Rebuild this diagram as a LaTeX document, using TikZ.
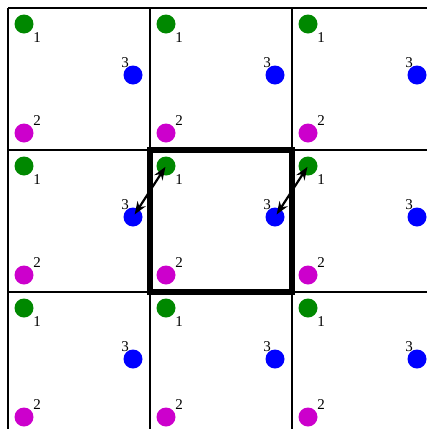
\documentclass[tikz,border=0pt]{standalone}
\usepackage{fontspec}
\setmainfont{Liberation Serif}
\usetikzlibrary{arrows.meta}
\definecolor{cgreen}{HTML}{008800}
\definecolor{cblue}{HTML}{0000FF}
\definecolor{cmag}{HTML}{CC00CC}
\tikzset{
  every picture/.style={x=1pt, y=-1pt},
  dot/.style={circle, fill=#1, minimum size=19pt, inner sep=0pt},
  num/.style={font=\fontsize{15}{15}\selectfont, inner sep=0pt},
  gridline/.style={line width=1.5pt},
  cellframe/.style={line width=6pt},
  bond/.style={Stealth-Stealth, line width=2.2pt, shorten <=1pt, shorten >=3pt},
}
\begin{document}
\begin{tikzpicture}
  \useasboundingbox (0,0) rectangle (427,429);
  \clip (0,0) rectangle (427,429);
  % grid of periodic cells
  \foreach \k in {0,1,2} {
    \draw[gridline] ({8+142*\k},8) -- ({8+142*\k},440);
    \draw[gridline] (8,{8+142*\k}) -- (440,{8+142*\k});
  }
  % atoms in each cell
  \foreach \i in {0,1,2} \foreach \j in {0,1,2} {
    \node[dot=cgreen] (g\i\j) at ({24+142*\j},{24+142*\i}) {};
    \node[dot=cblue] (b\i\j) at ({133+142*\j},{75+142*\i}) {};
    \node[dot=cmag] (m\i\j) at ({24+142*\j},{133+142*\i}) {};
    \node[num] (ng\i\j) at ({37+142*\j},{38+142*\i}) {1};
    \node[num] (nb\i\j) at ({125+142*\j},{63+142*\i}) {3};
    \node[num] (nm\i\j) at ({37+142*\j},{121+142*\i}) {2};
  }
  % central cell
  \draw[cellframe] (150,150) rectangle (292,292);
  \draw[bond] (g11.center) -- (b10.center);
  \draw[bond] (g12.center) -- (b11.center);
\end{tikzpicture}
\end{document}
